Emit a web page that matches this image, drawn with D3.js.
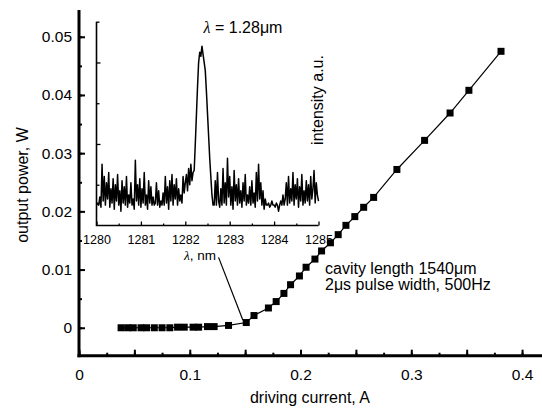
<!DOCTYPE html>
<html lang="en">
<head>
<meta charset="utf-8">
<title>Output power vs driving current</title>
<script src="https://d3js.org/d3.v7.min.js"></script>
<style>
  * { margin: 0; padding: 0; }
  body { width: 542px; height: 411px; background: white; overflow: hidden; }
  svg text { font-family: "Liberation Sans", Arial, sans-serif; fill: black; }
</style>
</head>
<body>
<main></main>
<script>
// main curve: driving current (A) vs output power (W)
const currents = [0.038, 0.044, 0.049, 0.056, 0.061, 0.068, 0.075, 0.082, 0.089, 0.095,
    0.103, 0.108, 0.116, 0.122, 0.135,
    0.151, 0.158, 0.171, 0.178, 0.185, 0.191, 0.199, 0.205, 0.213, 0.219,
    0.227, 0.234, 0.241, 0.249, 0.257, 0.266, 0.287, 0.312, 0.335, 0.352, 0.381];
const powers = [0, 0, 0, 0, 0, 0, 0, 0, 0.0001, 0.0001,
    0.0001, 0.0001, 0.0002, 0.0002, 0.0004,
    0.0009, 0.0021, 0.0034, 0.0045, 0.0059, 0.0074, 0.0089, 0.0104, 0.0118, 0.0132,
    0.0146, 0.0160, 0.0176, 0.0191, 0.0207, 0.0224, 0.0272, 0.0322, 0.0369, 0.0408, 0.0475];

const xTickValues = [0, 0.1, 0.2, 0.3, 0.4];
const xTickLabels = ["0", "0.1", "0.2", "0.3", "0.4"];
const yTickValues = [0, 0.01, 0.02, 0.03, 0.04, 0.05];
const yTickLabels = ["0", "0.01", "0.02", "0.03", "0.04", "0.05"];

// inset spectrum, sampled every 0.025 nm from 1280 nm
const spectrumStart = 1280;
const spectrumStep = 0.025;
const intensities = [
    0.10, 0.11, 0.10, 0.14, 0.09, 0.30, 0.12, 0.24, 0.10, 0.21,
    0.13, 0.26, 0.09, 0.18, 0.11, 0.23, 0.08, 0.20, 0.12, 0.25,
    0.10, 0.17, 0.07, 0.22, 0.11, 0.19, 0.10, 0.24, 0.09, 0.15,
    0.11, 0.21, 0.10, 0.13, 0.08, 0.32, 0.12, 0.20, 0.10, 0.23,
    0.09, 0.18, 0.11, 0.26, 0.10, 0.15, 0.08, 0.22, 0.11, 0.19,
    0.10, 0.14, 0.10, 0.11, 0.21, 0.10, 0.17, 0.09, 0.12, 0.10,
    0.16, 0.10, 0.24, 0.11, 0.19, 0.08, 0.22, 0.12, 0.25, 0.10,
    0.20, 0.13, 0.23, 0.10, 0.18, 0.12, 0.15, 0.11, 0.24, 0.16,
    0.21, 0.25, 0.17, 0.28, 0.20, 0.30, 0.22, 0.26, 0.27, 0.40,
    0.54, 0.68, 0.80, 0.85, 0.83, 0.88, 0.84, 0.80, 0.76, 0.66,
    0.55, 0.44, 0.33, 0.24, 0.15, 0.10, 0.10, 0.22, 0.10, 0.26,
    0.12, 0.09, 0.18, 0.10, 0.28, 0.11, 0.21, 0.10, 0.33, 0.14,
    0.24, 0.10, 0.19, 0.08, 0.27, 0.12, 0.20, 0.10, 0.23, 0.11,
    0.17, 0.09, 0.21, 0.12, 0.25, 0.10, 0.15, 0.11, 0.19, 0.10,
    0.22, 0.11, 0.16, 0.09, 0.26, 0.12, 0.30, 0.13, 0.21, 0.10,
    0.17, 0.08, 0.13, 0.10, 0.10, 0.11, 0.09, 0.10, 0.12, 0.10,
    0.10, 0.09, 0.11, 0.10, 0.07, 0.10, 0.12, 0.10, 0.15, 0.10,
    0.13, 0.21, 0.10, 0.24, 0.11, 0.18, 0.12, 0.26, 0.10, 0.20,
    0.13, 0.23, 0.09, 0.19, 0.12, 0.25, 0.10, 0.17, 0.11, 0.22,
    0.12, 0.20, 0.10, 0.24, 0.13, 0.18, 0.27, 0.11, 0.21, 0.15,
    0.12];
const insetTickValues = [1280, 1281, 1282, 1283, 1284, 1285];

const w = 542;
const h = 411;

const svg = d3.select("main")
    .append("svg")
    .attr("width", w)
    .attr("height", h);

const xScale = d3.scaleLinear().domain([0, 0.418]).range([79, 542]);
const yScale = d3.scaleLinear().domain([-0.0048, 0.0546]).range([355.7, 10]);

const styleAxis = (g, size) => {
    g.select(".domain").remove();
    g.selectAll("line").attr("stroke-width", 2);
    g.selectAll("text").attr("font-size", size + "px")
        .attr("font-family", "'Liberation Sans', Arial, sans-serif");
};

// x axis: minor, major, labels
svg.append("g")
    .attr("transform", `translate(0, ${yScale.range()[0]})`)
    .call(d3.axisBottom(xScale).tickValues(d3.range(0, 0.41, 0.025)).tickSizeInner(-3).tickSizeOuter(0).tickFormat(""))
    .call(g => styleAxis(g, 15));

svg.append("g")
    .attr("transform", `translate(0, ${yScale.range()[0]})`)
    .call(d3.axisBottom(xScale)
        .tickValues(d3.range(0, 0.41, 0.05))
        .tickSizeInner(-6).tickSizeOuter(0).tickPadding(13)
        .tickFormat(d => {
            const i = xTickValues.findIndex(v => Math.abs(v - d) < 1e-9);
            return i < 0 ? "" : xTickLabels[i];
        }))
    .call(g => styleAxis(g, 15.5));

// y axis
svg.append("g")
    .attr("transform", `translate(${xScale(0)}, 0)`)
    .call(d3.axisLeft(yScale).tickValues(d3.range(0, 0.051, 0.005)).tickSizeInner(-3).tickSizeOuter(0).tickFormat(""))
    .call(g => styleAxis(g, 15));

svg.append("g")
    .attr("transform", `translate(${xScale(0)}, 0)`)
    .call(d3.axisLeft(yScale)
        .tickValues(yTickValues)
        .tickSizeInner(-6).tickSizeOuter(0).tickPadding(7)
        .tickFormat((d, i) => yTickLabels[i]))
    .call(g => styleAxis(g, 15.5));

// thick axis lines
svg.append("line")
    .attr("x1", xScale(0)).attr("x2", xScale(0))
    .attr("y1", yScale.range()[1]).attr("y2", yScale.range()[0] + 1.5)
    .attr("stroke", "black").attr("stroke-width", 3);
svg.append("line")
    .attr("x1", xScale(0) - 1.5).attr("x2", w)
    .attr("y1", yScale.range()[0]).attr("y2", yScale.range()[0])
    .attr("stroke", "black").attr("stroke-width", 3);

// axis titles
svg.append("text")
    .attr("x", 310)
    .attr("y", 403)
    .attr("text-anchor", "middle")
    .attr("font-size", "16px")
    .text("driving current, A");

svg.append("text")
    .attr("transform", "translate(28, 185) rotate(-90)")
    .attr("text-anchor", "middle")
    .attr("font-size", "16px")
    .text("output power, W");

// main data
const points = d3.zip(currents, powers);

svg.append("path")
    .datum(points)
    .attr("fill", "none")
    .attr("stroke", "black")
    .attr("stroke-width", 1.2)
    .attr("d", d3.line().x(d => xScale(d[0])).y(d => yScale(d[1])));

const sq = 7;
svg.selectAll("rect.pt")
    .data(points)
    .enter()
    .append("rect")
    .attr("class", "pt")
    .attr("x", d => xScale(d[0]) - sq / 2)
    .attr("y", d => yScale(d[1]) - sq / 2)
    .attr("width", sq)
    .attr("height", sq)
    .attr("fill", "black");

// annotation text
svg.append("text")
    .attr("x", 325).attr("y", 274)
    .attr("font-size", "16px")
    .text("cavity length 1540\u03BCm");
svg.append("text")
    .attr("x", 325).attr("y", 290)
    .attr("font-size", "16px")
    .text("2\u03BCs pulse width, 500Hz");

// pointer from inset to threshold
svg.append("line")
    .attr("x1", xScale(0.126)).attr("y1", yScale(0.0121))
    .attr("x2", xScale(0.148)).attr("y2", yScale(0.0013))
    .attr("stroke", "black").attr("stroke-width", 1.2);

// ---- inset ----
const ix = d3.scaleLinear().domain([1280, 1285]).range([96.5, 318.5]);
const iy = d3.scaleLinear().domain([0, 1]).range([225.5, 21.7]);

const inset = svg.append("g");

inset.append("g")
    .attr("transform", `translate(0, ${iy(0)})`)
    .call(d3.axisBottom(ix).tickValues(d3.range(1280.5, 1285, 1)).tickSizeInner(-2).tickSizeOuter(0).tickFormat(""))
    .call(g => styleAxis(g, 12));
inset.append("g")
    .attr("transform", `translate(0, ${iy(0)})`)
    .call(d3.axisBottom(ix).tickValues(insetTickValues).tickSizeInner(-4).tickSizeOuter(0).tickPadding(10).tickFormat(d3.format("d")))
    .call(g => styleAxis(g, 12.5));
inset.append("g")
    .attr("transform", `translate(${ix(1280)}, 0)`)
    .call(d3.axisLeft(iy).tickValues([0.2, 0.6, 1.0]).tickSizeInner(-3).tickSizeOuter(0).tickFormat(""))
    .call(g => styleAxis(g, 12));
inset.append("g")
    .attr("transform", `translate(${ix(1280)}, 0)`)
    .call(d3.axisLeft(iy).tickValues([0.4, 0.8]).tickSizeInner(-4).tickSizeOuter(0).tickFormat(""))
    .call(g => styleAxis(g, 12));
inset.selectAll("line").attr("stroke-width", 1.3);

inset.append("path")
    .attr("fill", "none").attr("stroke", "black").attr("stroke-width", 1.6)
    .attr("d", `M${ix(1280)},${iy(1)}V${iy(0)}H${ix(1285)}`);

inset.append("path")
    .datum(intensities)
    .attr("fill", "none")
    .attr("stroke", "black")
    .attr("stroke-width", 1.5)
    .attr("stroke-linejoin", "round")
    .attr("d", d3.line().x((d, i) => ix(spectrumStart + i * spectrumStep)).y(d => iy(d)));

const lam = inset.append("text")
    .attr("x", 243).attr("y", 33)
    .attr("text-anchor", "middle")
    .attr("font-size", "16px");
lam.append("tspan").attr("font-family", "'Liberation Serif', serif").attr("font-style", "italic").text("\u03BB");
lam.append("tspan").text(" = 1.28\u03BCm");

const nm = inset.append("text")
    .attr("x", 200).attr("y", 260)
    .attr("text-anchor", "middle")
    .attr("font-size", "13.5px");
nm.append("tspan").attr("font-family", "'Liberation Serif', serif").attr("font-style", "italic").text("\u03BB");
nm.append("tspan").text(", nm");

inset.append("text")
    .attr("transform", "translate(323, 100) rotate(-90)")
    .attr("text-anchor", "middle")
    .attr("font-size", "16px")
    .text("intensity a.u.");
</script>
</body>
</html>
